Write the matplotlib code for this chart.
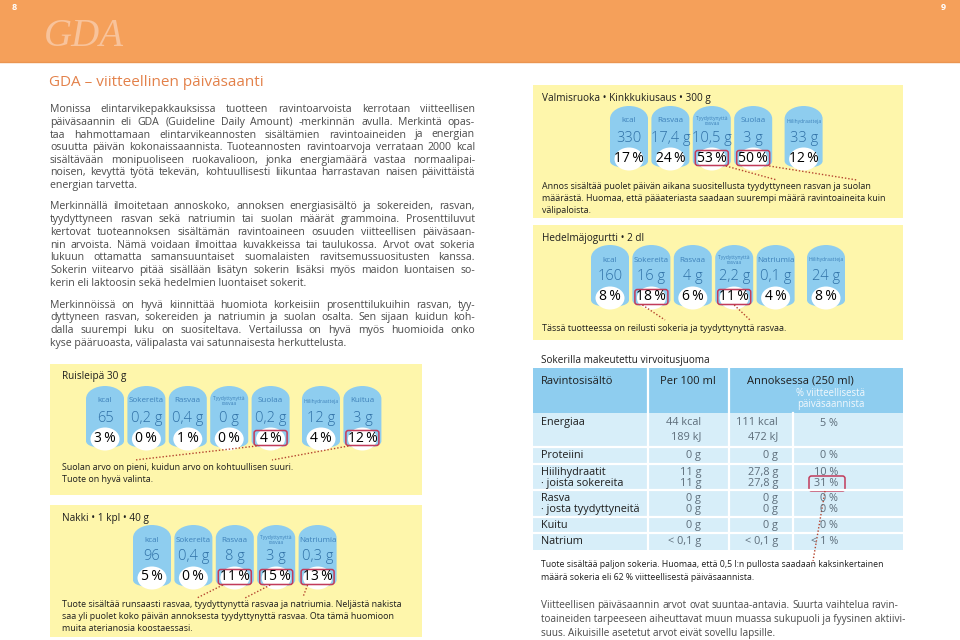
import matplotlib
matplotlib.use('Agg')

import matplotlib.pyplot as plt
from matplotlib.path import Path
from matplotlib.patches import PathPatch, Ellipse, FancyBboxPatch, Rectangle

plt.rcParams['font.family'] = ['Open Sans', 'DejaVu Sans']

# --- data -------------------------------------------------------------
ruis_title = 'Ruisleipä 30 g'
ruis_labels = ['kcal', 'Sokereita', 'Rasvaa', 'Tyydyttynyttä\nrasvaa', 'Suolaa', 'Hiilihydraatteja', 'Kuitua']
ruis_values = ['65', '0,2 g', '0,4 g', '0 g', '0,2 g', '12 g', '3 g']
ruis_pct = [3, 0, 1, 0, 4, 4, 12]
ruis_marked = [4, 6]
ruis_note = ['Suolan arvo on pieni, kuidun arvo on kohtuullisen suuri.',
             'Tuote on hyvä valinta.']

nakki_title = 'Nakki • 1 kpl • 40 g'
nakki_labels = ['kcal', 'Sokereita', 'Rasvaa', 'Tyydyttynyttä\nrasvaa', 'Natriumia']
nakki_values = ['96', '0,4 g', '8 g', '3 g', '0,3 g']
nakki_pct = [5, 0, 11, 15, 13]
nakki_marked = [2, 3, 4]
nakki_note = ['Tuote sisältää runsaasti rasvaa, tyydyttynyttä rasvaa ja natriumia. Neljästä nakista',
              'saa yli puolet koko päivän annoksesta tyydyttynyttä rasvaa. Ota tämä huomioon',
              'muita aterianosia koostaessasi.']

valmis_title = 'Valmisruoka • Kinkkukiusaus • 300 g'
valmis_labels = ['kcal', 'Rasvaa', 'Tyydyttynyttä\nrasvaa', 'Suolaa', 'Hiilihydraatteja']
valmis_values = ['330', '17,4 g', '10,5 g', '3 g', '33 g']
valmis_pct = [17, 24, 53, 50, 12]
valmis_marked = [2, 3]
valmis_note = ['Annos sisältää puolet päivän aikana suositellusta tyydyttyneen rasvan ja suolan',
               'määrästä. Huomaa, että pääateriasta saadaan suurempi määrä ravintoaineita kuin',
               'välipaloista.']

jogurtti_title = 'Hedelmäjogurtti • 2 dl'
jogurtti_labels = ['kcal', 'Sokereita', 'Rasvaa', 'Tyydyttynyttä\nrasvaa', 'Natriumia', 'Hiilihydraatteja']
jogurtti_values = ['160', '16 g', '4 g', '2,2 g', '0,1 g', '24 g']
jogurtti_pct = [8, 18, 6, 11, 4, 8]
jogurtti_marked = [1, 3]
jogurtti_note = ['Tässä tuotteessa on reilusti sokeria ja tyydyttynyttä rasvaa.']

tbl_title = 'Sokerilla makeutettu virvoitusjuoma'
tbl_head = ['Ravintosisältö', 'Per 100 ml', 'Annoksessa (250 ml)', '% viitteellisestä\npäiväsaannista']
tbl_rows = ['Energiaa', 'Proteiini', 'Hiilihydraatit', '· joista sokereita', 'Rasva',
            '· josta tyydyttyneitä', 'Kuitu', 'Natrium']
tbl_per100 = ['44 kcal\n189 kJ', '0 g', '11 g', '11 g', '0 g', '0 g', '0 g', '< 0,1 g']
tbl_serving = ['111 kcal\n472 kJ', '0 g', '27,8 g', '27,8 g', '0 g', '0 g', '0 g', '< 0,1 g']
tbl_pct = ['5 %', '0 %', '10 %', '31 %', '0 %', '0 %', '0 %', '< 1 %']
tbl_group = [0, 1, 2, 2, 3, 3, 4, 5]
tbl_marked = 3
tbl_note = ['Tuote sisältää paljon sokeria. Huomaa, että 0,5 l:n pullosta saadaan kaksinkertainen',
            'määrä sokeria eli 62 % viitteellisestä päiväsaannista.']

title = 'GDA – viitteellinen päiväsaanti'
para1 = ['Monissa elintarvikepakkauksissa tuotteen ravintoarvoista kerrotaan viitteellisen',
         'päiväsaannin eli GDA (Guideline Daily Amount) -merkinnän avulla. Merkintä opas-',
         'taa hahmottamaan elintarvikeannosten sisältämien ravintoaineiden ja energian',
         'osuutta päivän kokonaissaannista. Tuoteannosten ravintoarvoja verrataan 2000 kcal',
         'sisältävään monipuoliseen ruokavalioon, jonka energiamäärä vastaa normaalipai-',
         'noisen, kevyttä työtä tekevän, kohtuullisesti liikuntaa harrastavan naisen päivittäistä',
         'energian tarvetta.']
para2 = ['Merkinnällä ilmoitetaan annoskoko, annoksen energiasisältö ja sokereiden, rasvan,',
         'tyydyttyneen rasvan sekä natriumin tai suolan määrät grammoina. Prosenttiluvut',
         'kertovat tuoteannoksen sisältämän ravintoaineen osuuden viitteellisen päiväsaan-',
         'nin arvoista. Nämä voidaan ilmoittaa kuvakkeissa tai taulukossa. Arvot ovat sokeria',
         'lukuun ottamatta samansuuntaiset suomalaisten ravitsemussuositusten kanssa.',
         'Sokerin viitearvo pitää sisällään lisätyn sokerin lisäksi myös maidon luontaisen so-',
         'kerin eli laktoosin sekä hedelmien luontaiset sokerit.']
para3 = ['Merkinnöissä on hyvä kiinnittää huomiota korkeisiin prosenttilukuihin rasvan, tyy-',
         'dyttyneen rasvan, sokereiden ja natriumin ja suolan osalta. Sen sijaan kuidun koh-',
         'dalla suurempi luku on suositeltava. Vertailussa on hyvä myös huomioida onko',
         'kyse pääruoasta, välipalasta vai satunnaisesta herkuttelusta.']
para4 = ['Viitteellisen päiväsaannin arvot ovat suuntaa-antavia. Suurta vaihtelua ravin-',
         'toaineiden tarpeeseen aiheuttavat muun muassa sukupuoli ja fyysinen aktiivi-',
         'suus. Aikuisille asetetut arvot eivät sovellu lapsille.']

# --- colours ------------------------------------------------------------
ORANGE = '#f5a05a'
YELLOW = '#fef6ab'
BLUE = '#8ecdef'
PALE = '#d7eef9'
ICON_TXT = '#3f82ba'
VALUE_TXT = '#2f70a6'
MARK = '#c23b5a'
DOTS = '#b5452f'
BODY = '#4a4a4a'
DARK = '#1e1e1e'

fig = plt.figure(figsize=(9.6, 6.4), dpi=100)
ax = fig.add_axes([0, 0, 1, 1])
ax.set_xlim(0, 960)
ax.set_ylim(640, 0)
ax.axis('off')
renderer = fig.canvas.get_renderer()


def text_width(s, **kw):
    t = ax.text(0, 0, s, **kw)
    w = t.get_window_extent(renderer=renderer).width
    t.remove()
    return w


def put_lines(lines, x0, x1, y0, dy, justify=True, **kw):
    # y0 is the visual middle of the first line; words sit on a common baseline
    space = text_width('a a', **kw) - text_width('aa', **kw)
    shift = 0.5 * kw.get('fontsize', 8)
    for i, line in enumerate(lines):
        y = y0 + i * dy + shift
        words = line.split(' ')
        if not justify or i == len(lines) - 1 or len(words) < 2:
            ax.text(x0, y, line, va='baseline', ha='left', **kw)
            continue
        ws = [text_width(w, **kw) for w in words]
        gap = (x1 - x0 - sum(ws)) / (len(words) - 1)
        if gap < space * 0.8:
            ax.text(x0, y, line, va='baseline', ha='left', **kw)
            continue
        x = x0
        for w, wd in zip(words, ws):
            ax.text(x, y, w, va='baseline', ha='left', **kw)
            x += wd + gap


def icon(cx, pc, label, value, pct, marked):
    hw = 19
    verts = [(cx - hw, pc + 3), (cx - hw, pc - 39),
             (cx - hw, pc - 47), (cx - hw * 0.5, pc - 52), (cx, pc - 52),
             (cx + hw * 0.5, pc - 52), (cx + hw, pc - 47), (cx + hw, pc - 39),
             (cx + hw, pc + 3),
             (cx + hw, pc + 8), (cx + hw * 0.5, pc + 10), (cx, pc + 10),
             (cx - hw * 0.5, pc + 10), (cx - hw, pc + 8), (cx - hw, pc + 3),
             (cx - hw, pc + 3)]
    codes = [Path.MOVETO, Path.LINETO] + [Path.CURVE4] * 6 + [Path.LINETO] \
        + [Path.CURVE4] * 6 + [Path.CLOSEPOLY]
    ax.add_patch(PathPatch(Path(verts, codes), fc=BLUE, ec='none'))
    ax.add_patch(Ellipse((cx, pc + 1), 29, 23, fc='white', ec='none'))
    small = '\n' in label or len(label) > 12
    ax.text(cx, pc - 37, label, ha='center', va='center', color=ICON_TXT,
            fontsize=3.6 if small else 5.8, linespacing=0.95)
    ax.text(cx, pc - 20, value, ha='center', va='center', color=VALUE_TXT,
            fontsize=10.5, fontweight='light')
    ax.text(cx, pc, f'{pct}\u2009%', ha='center', va='center', color='black',
            fontsize=10, fontweight='medium')
    if marked:
        ax.add_patch(FancyBboxPatch((cx - 16.5, pc - 7.5), 33, 15,
                                    boxstyle='round,pad=0,rounding_size=2.5',
                                    fc='none', ec=MARK, lw=1.1))


def gda_box(box, pad, name, labels, values, pct, marked, n_core, x_first, pc,
            links, note, note_y):
    x0, y0, x1, y1 = box
    ax.add_patch(Rectangle((x0, y0), x1 - x0, y1 - y0, fc=YELLOW, ec='none'))
    ax.text(x0 + pad, y0 + 13, name, ha='left', va='center', color=DARK,
            fontsize=7.2, fontweight='medium')
    xs = []
    for i in range(len(labels)):
        cx = x_first + i * 41.4 + (9 if i >= n_core else 0)
        xs.append(cx)
        icon(cx, pc, labels[i], values[i], pct[i], i in marked)
    for i, dx, ex, ey in links:
        ax.plot([xs[i] + dx, ex], [pc + 8, ey], color=DOTS, lw=1.0,
                linestyle=(0, (1, 1.4)))
    put_lines(note, x0 + pad, x1, note_y, 11.8, justify=False, color=DARK,
              fontsize=6.4, fontweight='medium')


# header band
ax.add_patch(Rectangle((0, 0), 960, 62, fc=ORANGE, ec='none'))
ax.plot([0, 960], [62, 62], color='#eb9550', lw=1)
ax.text(14, 8, '8', color='white', fontsize=6.5, fontweight='bold', ha='center', va='center')
ax.text(943, 8, '9', color='white', fontsize=6.5, fontweight='bold', ha='center', va='center')
ax.text(44, 36, 'GDA', color='#f8c39b', fontsize=28, style='italic',
        family=['Liberation Serif', 'DejaVu Serif'], ha='left', va='center')

# left page text
ax.text(49, 83, title, color='#e3814a', fontsize=11, ha='left', va='center')
put_lines(para1, 50, 475, 108.5, 12.6, color=BODY, fontsize=7.6)
put_lines(para2, 50, 475, 205.5, 12.8, color=BODY, fontsize=7.6)
put_lines(para3, 50, 475, 304, 12.6, color=BODY, fontsize=7.6)

gda_box((50, 364, 422, 495), 12, ruis_title, ruis_labels, ruis_values, ruis_pct,
        ruis_marked, 5, 105, 438, [(4, -14, 135, 460), (6, -14, 272, 460)],
        ruis_note, 467)
gda_box((50, 505, 422, 637), 12, nakki_title, nakki_labels, nakki_values, nakki_pct,
        nakki_marked, 5, 152, 577,
        [(2, -12, 197, 598), (3, -6, 245, 598), (4, -10, 303, 597)],
        nakki_note, 604)
gda_box((533, 85, 903, 218), 8.5, valmis_title, valmis_labels, valmis_values, valmis_pct,
        valmis_marked, 4, 629, 158, [(2, 14, 777, 180), (3, 16, 857, 180)],
        valmis_note, 186)
gda_box((533, 225, 903, 340), 8.5, jogurtti_title, jogurtti_labels, jogurtti_values,
        jogurtti_pct, jogurtti_marked, 5, 610, 297,
        [(1, -9, 665, 320), (3, 0, 750, 320)], jogurtti_note, 328)

# nutrition table
ax.text(541, 360, tbl_title, color=DARK, fontsize=7.2, ha='left', va='center')
tx0, tx1 = 533, 903
col_x = [648, 729, 793]
ax.add_patch(Rectangle((tx0, 368), tx1 - tx0, 45, fc=BLUE, ec='none'))
group_top = [413, 447, 464, 490, 517, 533, 550]
ax.add_patch(Rectangle((tx0, group_top[0]), tx1 - tx0, group_top[-1] - group_top[0],
                       fc=PALE, ec='none'))
for yy in group_top[1:-1]:
    ax.plot([tx0, tx1], [yy, yy], color='white', lw=1.6)
for xx in col_x[:2]:
    ax.plot([xx, xx], [368, 550], color='white', lw=1.6)
ax.plot([col_x[2], col_x[2]], [413, 550], color='white', lw=1.6)

ax.text(541, 381, tbl_head[0], color=DARK, fontsize=8, fontweight='medium', va='center')
ax.text(688, 381, tbl_head[1], color=DARK, fontsize=8, fontweight='medium', va='center', ha='center')
ax.text(747, 381, tbl_head[2], color=DARK, fontsize=8, fontweight='medium', va='center')
ax.text(831, 399, tbl_head[3], color='#f2f8fc', fontsize=6.9, va='center', ha='center',
        linespacing=1.1)

seen = {}
for i, lab in enumerate(tbl_rows):
    g = tbl_group[i]
    k = seen.get(g, 0)
    seen[g] = k + 1
    y = group_top[g] + 8.5 + k * 11
    if i == 0:
        y += 1.5
    weight = 'medium' if not lab.startswith('·') else 'normal'
    ax.text(541, y, lab, color=DARK, fontsize=7.8, fontweight=weight, va='center')
    for xr, val in ((701, tbl_per100[i]), (778, tbl_serving[i]), (838, tbl_pct[i])):
        multi = '\n' in val
        ax.text(xr, y - 6 if multi else y, val, color='#5d6d7a', fontsize=7.8, ha='right',
                va='top' if multi else 'center', linespacing=1.35)
    if i == tbl_marked:
        ax.add_patch(FancyBboxPatch((809, y - 7.5), 36, 15,
                                    boxstyle='round,pad=0,rounding_size=2.5',
                                    fc='none', ec=MARK, lw=1.1))
        ax.plot([825, 813], [y + 7.5, 561], color=DOTS, lw=1.0, linestyle=(0, (1, 1.4)))

put_lines(tbl_note, 541, 900, 564, 13, justify=False, color=DARK, fontsize=6.3,
          fontweight='medium')
put_lines(para4, 541, 898, 604, 14, color=BODY, fontsize=7.2)

fig.savefig('out.png', dpi=100)
